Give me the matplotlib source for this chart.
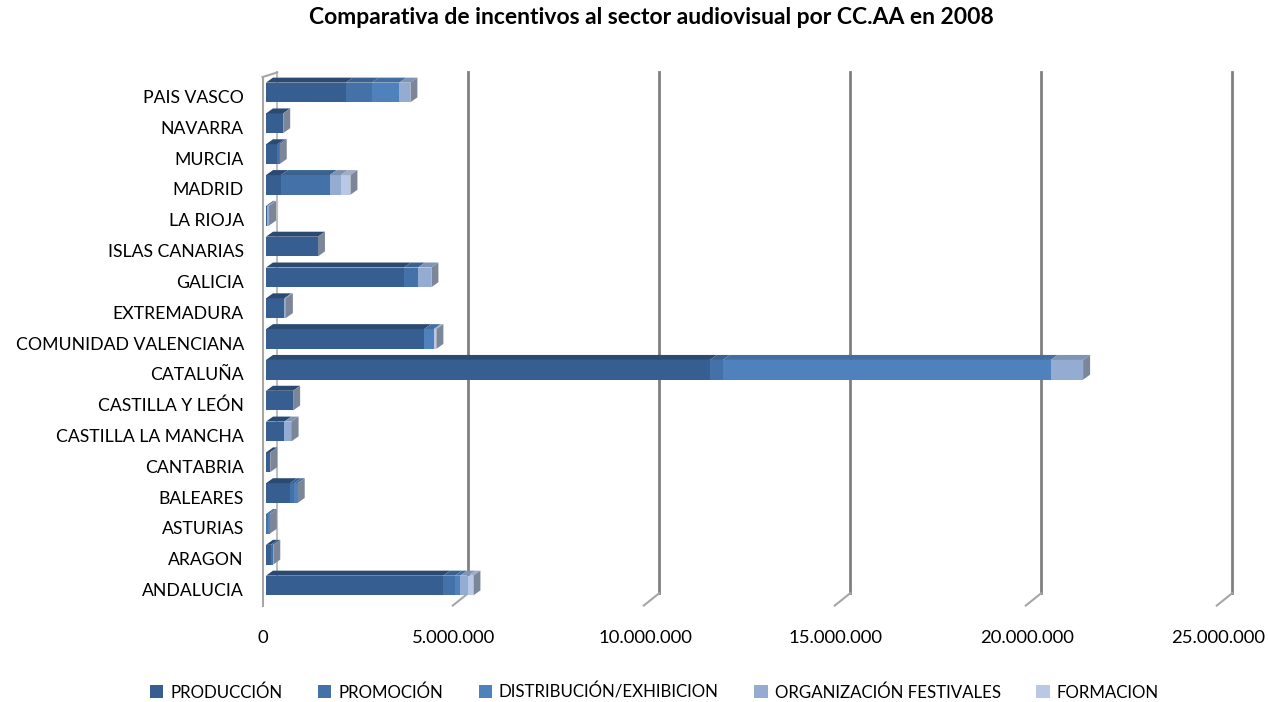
import matplotlib
matplotlib.use("Agg")
import matplotlib.pyplot as plt
import matplotlib.transforms as mtransforms
from matplotlib.patches import Polygon
from matplotlib.ticker import FuncFormatter
import numpy as np

plt.rcParams["font.family"] = ["Lato", "DejaVu Sans"]

# data (euros), bottom to top as drawn
regions = [
    "ANDALUCIA", "ARAGON", "ASTURIAS", "BALEARES", "CANTABRIA",
    "CASTILLA LA MANCHA", "CASTILLA Y LEÓN", "CATALUÑA",
    "COMUNIDAD VALENCIANA", "EXTREMADURA", "GALICIA", "ISLAS CANARIAS",
    "LA RIOJA", "MADRID", "MURCIA", "NAVARRA", "PAIS VASCO",
]
produccion = [4640000, 120000, 0, 630000, 110000, 480000, 710000, 11620000,
              4140000, 480000, 3610000, 1360000, 30000, 390000, 300000,
              450000, 2090000]
promocion = [310000, 70000, 50000, 110000, 0, 0, 0, 340000,
             0, 0, 370000, 0, 0, 1280000, 60000, 0, 680000]
distribucion = [130000, 0, 50000, 90000, 0, 0, 0, 8580000,
                250000, 0, 0, 0, 0, 0, 0, 0, 720000]
festivales = [220000, 0, 0, 0, 0, 190000, 0, 850000,
              0, 40000, 350000, 0, 50000, 290000, 0, 0, 290000]
formacion = [130000, 0, 0, 0, 0, 0, 0, 0,
             70000, 0, 0, 0, 0, 250000, 0, 0, 0]

series = ["PRODUCCIÓN", "PROMOCIÓN", "DISTRIBUCIÓN/EXHIBICION",
          "ORGANIZACIÓN FESTIVALES", "FORMACION"]
colors = ["#375E91", "#4472A8", "#4F81BD", "#95ACD2", "#B9C8E4"]
tops = ["#2B4A72", "#3A6190", "#436EA3", "#7F93B4", "#9EACC6"]

x_max = 25000000
ticks = [0, 5000000, 10000000, 15000000, 20000000, 25000000]


def fmt(v, pos):
    if v == 0:
        return "0"
    return f"{int(v):,}".replace(",", ".")


fig = plt.figure(figsize=(12.68, 7.02), dpi=100)
ax = fig.add_axes([266 / 1268, 98 / 702, 955 / 1268, 530 / 702])

ypos = np.arange(len(regions))
bar_h = 0.64
ax.set_xlim(0, x_max)
ax.set_ylim(-0.6, len(regions) - 0.4)

# pixel -> data for the fake depth
px_x = x_max / 955
px_y = (len(regions) - 0.4 + 0.6) / 530
dx = 7 * px_x
dy = 5 * px_y

# depth grid lines (back plane) with slanted feet
y_bot, y_top = ax.get_ylim()
for t in ticks:
    if t == 0:
        continue
    gx = t + 1.6 * dx
    ax.plot([gx, gx], [y_bot + 0.35, y_top + 0.05], color="#808080",
            lw=2.0, zorder=0, clip_on=False)
    ax.plot([gx, t - 0.6 * dx], [y_bot + 0.35, y_bot - 0.05],
            color="#A6A6A6", lw=1.5, zorder=0, clip_on=False)

# left wall
ax.plot([-0.5 * dx, -0.5 * dx], [y_bot - 0.05, y_top - 0.1],
        color="#A6A6A6", lw=1.5, zorder=0, clip_on=False)
ax.plot([1.6 * dx, 1.6 * dx], [y_bot + 0.35, y_top + 0.05],
        color="#BFBFBF", lw=1.5, zorder=0, clip_on=False)
ax.plot([-0.5 * dx, 1.6 * dx], [y_top - 0.1, y_top + 0.05],
        color="#A6A6A6", lw=1.5, zorder=0, clip_on=False)

values = [produccion, promocion, distribucion, festivales, formacion]
left = np.zeros(len(regions))
for name, vals, c, tc in zip(series, values, colors, tops):
    vals = np.array(vals, dtype=float)
    ax.barh(ypos, vals, left=left, height=bar_h, color=c,
            edgecolor="none", label=name, zorder=2)
    for y, l, w in zip(ypos, left, vals):
        if w <= 0:
            continue
        y1 = y + bar_h / 2
        top = Polygon([[l, y1], [l + w, y1], [l + w + dx, y1 + dy],
                       [l + dx, y1 + dy]], closed=True, color=tc,
                      lw=0, zorder=3)
        ax.add_patch(top)
    left = left + vals

# end faces of each bar
for y, total in zip(ypos, left):
    y0 = y - bar_h / 2
    y1 = y + bar_h / 2
    side = Polygon([[total, y0], [total + dx, y0 + dy],
                    [total + dx, y1 + dy], [total, y1]], closed=True,
                   color="#7C8699", lw=0, zorder=3)
    ax.add_patch(side)

ax.set_yticks(ypos)
ax.set_yticklabels(regions, fontsize=12.7)
ax.set_xticks(ticks)
ax.xaxis.set_major_formatter(FuncFormatter(fmt))
ax.tick_params(axis="x", labelsize=13.3, length=0, pad=19)
ax.tick_params(axis="y", length=0, pad=16)
for s in ax.spines.values():
    s.set_visible(False)

# labels sit a little below the bar centres in the original
shift = mtransforms.ScaledTranslation(0, -4 / 100, fig.dpi_scale_trans)
for lab in ax.get_yticklabels():
    lab.set_transform(lab.get_transform() + shift)
shift_x = mtransforms.ScaledTranslation(-3 / 100, 0, fig.dpi_scale_trans)
for lab in ax.get_xticklabels():
    lab.set_transform(lab.get_transform() + shift_x)

fig.suptitle("Comparativa de incentivos al sector audiovisual por CC.AA en 2008",
             fontsize=16.5, fontweight="bold", x=0.514, y=0.99)

fig.legend(loc="lower center", ncol=5, frameon=False, fontsize=12.2,
           bbox_to_anchor=(0.516, -0.02), handlelength=0.8,
           handleheight=0.8, handletextpad=0.4, columnspacing=2.1)

fig.savefig("out.png", dpi=100)
